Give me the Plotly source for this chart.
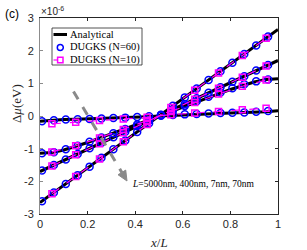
import plotly.graph_objects as go

# ---------------- data (values in units of 1e-6 eV) ----------------
x_analytical = [0.0, 0.05, 0.1, 0.15, 0.2, 0.25, 0.3, 0.35, 0.4, 0.45, 0.5,
                0.55, 0.6, 0.65, 0.7, 0.75, 0.8, 0.85, 0.9, 0.95, 1.0]
ana_5000nm = [-2.65, -2.385, -2.12, -1.855, -1.59, -1.325, -1.06, -0.795, -0.53, -0.265, 0.0,
              0.265, 0.53, 0.795, 1.06, 1.325, 1.59, 1.855, 2.12, 2.385, 2.65]
ana_400nm = [-1.70, -1.53, -1.36, -1.19, -1.02, -0.85, -0.68, -0.51, -0.34, -0.17, 0.0,
             0.17, 0.34, 0.51, 0.68, 0.85, 1.02, 1.19, 1.36, 1.53, 1.70]
ana_70nm = [-1.14, -1.12, -1.04, -0.93, -0.81, -0.68, -0.55, -0.42, -0.28, -0.14, 0.0,
            0.14, 0.28, 0.42, 0.55, 0.68, 0.81, 0.93, 1.04, 1.12, 1.14]
ana_7nm = [-0.16, -0.13, -0.11, -0.10, -0.09, -0.08, -0.065, -0.05, -0.035, -0.02, 0.0,
           0.02, 0.035, 0.05, 0.065, 0.08, 0.09, 0.10, 0.11, 0.13, 0.16]

x_n60 = [0.0083, 0.0583, 0.1083, 0.1583, 0.2083, 0.2583, 0.3083, 0.3583, 0.4083, 0.4583,
         0.5083, 0.5583, 0.6083, 0.6583, 0.7083, 0.7583, 0.8083, 0.8583, 0.9083, 0.9583]
n60_5000nm = [-2.61, -2.34, -2.08, -1.81, -1.55, -1.28, -1.02, -0.75, -0.49, -0.22,
              0.04, 0.31, 0.57, 0.84, 1.10, 1.37, 1.63, 1.90, 2.16, 2.43]
n60_400nm = [-1.67, -1.50, -1.33, -1.16, -0.99, -0.82, -0.65, -0.48, -0.31, -0.14,
             0.03, 0.20, 0.37, 0.54, 0.71, 0.88, 1.05, 1.22, 1.39, 1.56]
n60_70nm = [-1.14, -1.11, -1.02, -0.91, -0.79, -0.66, -0.53, -0.40, -0.26, -0.12,
            0.02, 0.16, 0.31, 0.45, 0.59, 0.72, 0.85, 0.97, 1.06, 1.12]
n60_7nm = [-0.16, -0.13, -0.11, -0.10, -0.09, -0.08, -0.06, -0.05, -0.03, -0.01,
           0.01, 0.03, 0.05, 0.06, 0.08, 0.09, 0.10, 0.11, 0.13, 0.15]

x_n10 = [0.05, 0.15, 0.25, 0.35, 0.45, 0.55, 0.65, 0.75, 0.85, 0.95]
n10_5000nm = [-2.38, -1.85, -1.32, -0.79, -0.26, 0.26, 0.79, 1.32, 1.85, 2.38]
n10_400nm = [-1.53, -1.19, -0.85, -0.51, -0.17, 0.17, 0.51, 0.85, 1.19, 1.53]
n10_70nm = [-1.10, -0.91, -0.67, -0.41, -0.14, 0.14, 0.41, 0.67, 0.91, 1.10]
n10_7nm = [-0.24, -0.19, -0.14, -0.09, -0.04, 0.04, 0.09, 0.14, 0.19, 0.24]

x_ticks = [0, 0.2, 0.4, 0.6, 0.8, 1]
x_ticktext = ["0", "0.2", "0.4", "0.6", "0.8", "1"]
y_ticks = [-3, -2, -1, 0, 1, 2, 3]
y_ticktext = ["-3", "-2", "-1", "0", "1", "2", "3"]

# ---------------- figure ----------------
W, H = 307, 250
ML, MR, MT, MB = 40, 29, 18, 36
PW, PH = W - ML - MR, H - MT - MB


def px(xp):
    return (xp - ML) / PW


def py(yp):
    return (H - MB - yp) / PH


SANS = "Liberation Sans, Arial, sans-serif"
SERIF = "Liberation Serif, Times New Roman, serif"
AX = "#262626"
GRAY = "#8a8a8a"

fig = go.Figure()
for ys in [ana_5000nm, ana_400nm, ana_70nm, ana_7nm]:
    fig.add_trace(go.Scatter(x=x_analytical, y=ys, mode="lines",
                             line=dict(color="black", width=3), showlegend=False))
for ys in [n60_5000nm, n60_400nm, n60_70nm, n60_7nm]:
    fig.add_trace(go.Scatter(x=x_n60, y=ys, mode="markers",
                             marker=dict(symbol="circle-open", size=7, color="#0000ff",
                                         line=dict(width=1.5, color="#0000ff")),
                             showlegend=False))
for ys in [n10_5000nm, n10_400nm, n10_70nm, n10_7nm]:
    fig.add_trace(go.Scatter(x=x_n10, y=ys, mode="lines+markers",
                             line=dict(color="#ff00ff", width=1.2, dash="dash"),
                             marker=dict(symbol="square-open", size=6, color="#ff00ff",
                                         line=dict(width=1.5, color="#ff00ff")),
                             showlegend=False))
# register mirror axes
fig.add_trace(go.Scatter(x=[], y=[], xaxis="x2", yaxis="y2", showlegend=False))

common = dict(showgrid=False, zeroline=False, showline=True, linewidth=1,
              ticks="inside", ticklen=3, tickwidth=1)
fig.update_layout(
    width=W, height=H, margin=dict(l=ML, r=MR, t=MT, b=MB),
    plot_bgcolor="white", paper_bgcolor="white", showlegend=False,
    xaxis=dict(range=[0, 1], tickvals=x_ticks, ticktext=x_ticktext,
               linecolor=AX, tickcolor=AX, ticklabelstandoff=0,
               tickfont=dict(family=SANS, size=11, color=AX), **common),
    xaxis2=dict(range=[0, 1], overlaying="x", side="top", matches="x",
                tickvals=x_ticks, showticklabels=False,
                linecolor=AX, tickcolor=AX, **common),
    yaxis=dict(range=[-3, 3], tickvals=y_ticks, ticktext=y_ticktext,
               linecolor="#8c8c8c", tickcolor="#8c8c8c", ticklabelstandoff=3,
               tickfont=dict(family=SANS, size=11, color=AX), **common),
    yaxis2=dict(range=[-3, 3], overlaying="y", side="right", matches="y",
                tickvals=y_ticks, showticklabels=False,
                linecolor=AX, tickcolor=AX, **common),
)

shapes = []
annotations = []

# legend box
shapes.append(dict(type="rect", xref="paper", yref="paper",
                   x0=px(52), x1=px(142), y0=py(65), y1=py(28),
                   line=dict(color=AX, width=0.8), fillcolor="white", layer="above"))
# Analytical sample
shapes.append(dict(type="line", xref="paper", yref="paper",
                   x0=px(53.5), x1=px(67), y0=py(34.5), y1=py(34.5),
                   line=dict(color="black", width=3), layer="above"))
# N=60 sample
shapes.append(dict(type="circle", xref="paper", yref="paper",
                   xsizemode="pixel", ysizemode="pixel",
                   xanchor=px(60.3), yanchor=py(47.5), x0=-3, x1=3, y0=-3, y1=3,
                   line=dict(color="#0000ff", width=1.5), layer="above"))
# N=10 sample
shapes.append(dict(type="line", xref="paper", yref="paper",
                   x0=px(53.5), x1=px(67), y0=py(60), y1=py(60),
                   line=dict(color="#ff00ff", width=1.2, dash="dash"), layer="above"))
shapes.append(dict(type="rect", xref="paper", yref="paper",
                   xsizemode="pixel", ysizemode="pixel",
                   xanchor=px(60.3), yanchor=py(60), x0=-2.7, x1=2.7, y0=-2.7, y1=2.7,
                   line=dict(color="#ff00ff", width=1.5), fillcolor="white", layer="above"))

for txt, yy in [("Analytical", 34.5), ("DUGKS (N=60)", 47.5), ("DUGKS (N=10)", 60)]:
    annotations.append(dict(text=txt, xref="paper", yref="paper", x=px(67.5), y=py(yy),
                            xanchor="left", yanchor="middle", showarrow=False,
                            font=dict(family=SERIF, size=10.5, color="black")))

# gray dashed arrow (shaft + filled head)
tail = (73.5, 91.5)
tip = (127.0, 181.0)
dx, dy = tip[0] - tail[0], tip[1] - tail[1]
ln = (dx * dx + dy * dy) ** 0.5
ux, uy = dx / ln, dy / ln
nx, ny = -uy, ux
head_len, head_half = 10.0, 4.5
bx, by = tip[0] - head_len * ux, tip[1] - head_len * uy
shapes.append(dict(type="line", xref="paper", yref="paper",
                   x0=px(tail[0]), y0=py(tail[1]), x1=px(bx), y1=py(by),
                   line=dict(color=GRAY, width=3, dash="dash"), layer="above"))
p1 = (bx + head_half * nx, by + head_half * ny)
p2 = (bx - head_half * nx, by - head_half * ny)
path = "M {} {} L {} {} L {} {} Z".format(px(tip[0]), py(tip[1]), px(p1[0]), py(p1[1]),
                                          px(p2[0]), py(p2[1]))
shapes.append(dict(type="path", xref="paper", yref="paper", path=path,
                   fillcolor=GRAY, line=dict(color=GRAY, width=1), layer="above"))

annotations.append(dict(text="<i>L</i>=5000nm, 400nm, 7nm, 70nm", xref="paper", yref="paper",
                        x=px(130), y=py(183.5), xanchor="left", yanchor="middle",
                        showarrow=False, font=dict(family=SERIF, size=9.5, color="black")))

# titles / labels
annotations.append(dict(text="(c)", xref="paper", yref="paper", x=px(3), y=py(14),
                        xanchor="left", yanchor="middle", showarrow=False,
                        font=dict(family=SANS, size=12, color="black")))
annotations.append(dict(text="×10<sup>-6</sup>", xref="paper", yref="paper", x=px(39), y=py(11),
                        xanchor="left", yanchor="middle", showarrow=False,
                        font=dict(family=SANS, size=10, color=AX)))
annotations.append(dict(text="Δ<i>μ</i>(eV)", xref="paper", yref="paper", x=px(16), y=py(104),
                        xanchor="center", yanchor="middle", textangle=-90, showarrow=False,
                        font=dict(family=SERIF, size=13, color=AX)))
annotations.append(dict(text="<i>x</i>/<i>L</i>", xref="paper", yref="paper", x=px(159), y=py(242),
                        xanchor="center", yanchor="middle", showarrow=False,
                        font=dict(family=SERIF, size=13, color=AX)))

fig.update_layout(shapes=shapes, annotations=annotations)
fig.write_html("out.html", config={"displayModeBar": False},
               post_script="document.body.style.margin='0';document.body.style.overflow='hidden';")
